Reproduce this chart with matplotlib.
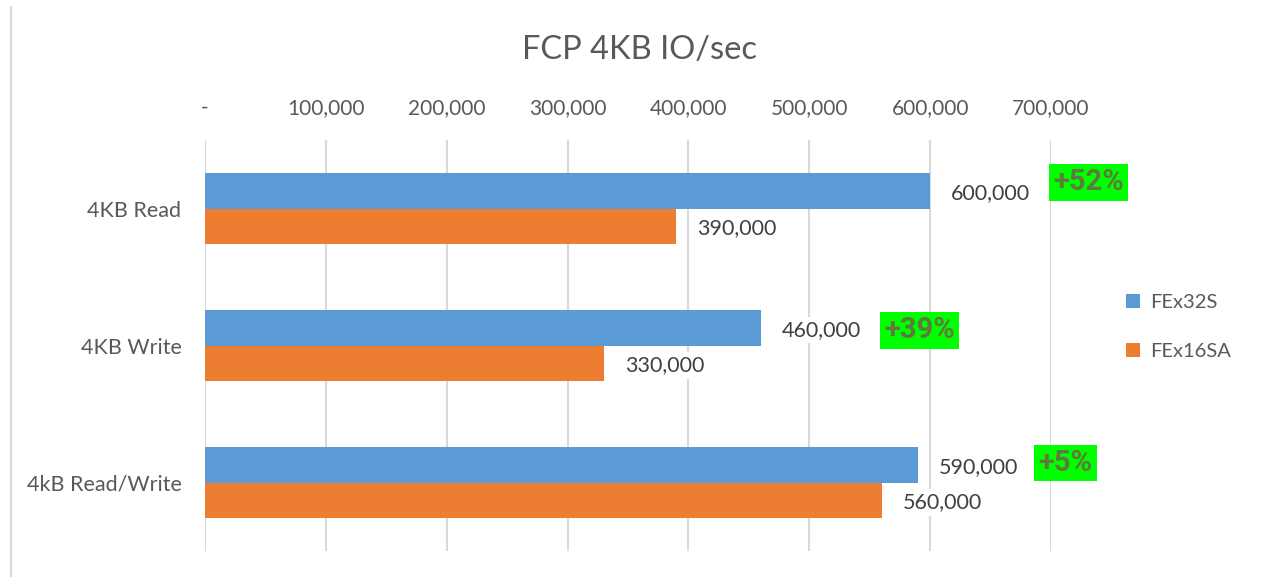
import matplotlib.pyplot as plt
from matplotlib.lines import Line2D
import numpy as np

plt.rcParams['font.family'] = ['Lato', 'DejaVu Sans']

categories = ['4KB Read', '4KB Write', '4kB Read/Write']
fex32s = [600000, 460000, 590000]
fex16sa = [390000, 330000, 560000]
gains = ['+52%', '+39%', '+5%']
ticks = [0, 100000, 200000, 300000, 400000, 500000, 600000, 700000]
tick_labels = ['-', '100,000', '200,000', '300,000', '400,000', '500,000', '600,000', '700,000']

blue = '#5b9bd5'
orange = '#ed7d31'
grey = '#595959'

W, H = 1264, 577
fig = plt.figure(figsize=(W / 100, H / 100), dpi=100)
ax = fig.add_axes([205 / W, 1 - 551 / H, (1051 - 205) / W, (551 - 140) / H])

y = np.arange(len(categories))
h = 0.26
ax.barh(y - h / 2, fex32s, height=h, color=blue, label='FEx32S', zorder=3)
ax.barh(y + h / 2, fex16sa, height=h, color=orange, label='FEx16SA', zorder=3)

ax.set_xlim(0, 700000)
ax.set_ylim(2.5, -0.5)
ax.set_xticks(ticks)
ax.set_xticklabels(tick_labels)
ax.xaxis.tick_top()
ax.set_yticks(y)
ax.set_yticklabels(categories)
ax.tick_params(axis='x', length=0, pad=16, labelsize=15, labelcolor=grey)
ax.tick_params(axis='y', length=0, pad=17, labelsize=15.5, labelcolor=grey)
ax.grid(axis='x', color='#d9d9d9', linewidth=1.5, zorder=0)
for s in ax.spines.values():
    s.set_visible(False)

# value labels
for i in range(len(categories)):
    for val, off in ((fex32s[i], -h / 2), (fex16sa[i], h / 2)):
        ax.annotate(f'{val:,}', (val, i + off + 0.015), xytext=(15, 0),
                    textcoords='offset points', ha='left', va='center',
                    fontsize=15.5, color='#404040', zorder=4,
                    bbox=dict(boxstyle='square,pad=0.15', fc='white', ec='none'))

# gain badges
badge_x = [731000, 591000, 712000]
badge_y = [-0.19, 0.89, 1.86]
for t, bx, by in zip(gains, badge_x, badge_y):
    ax.text(bx, by, t, ha='center', va='center', fontsize=21, fontweight='bold',
            family=['Roboto', 'DejaVu Sans'], color='#5e7a3c', clip_on=False, zorder=5,
            bbox=dict(boxstyle='square,pad=0.14', fc='#00ff00', ec='none'))

fig.text(640 / W, 1 - 50 / H, 'FCP 4KB IO/sec', ha='center', va='center',
         fontsize=23.5, color=grey)

fig.legend(loc='center left', bbox_to_anchor=(1108 / W, 1 - 327 / H), frameon=False,
           fontsize=14.5, labelcolor=grey, handlelength=0.7, handleheight=0.7,
           labelspacing=1.55, handletextpad=0.5)

fig.add_artist(Line2D([11 / W, 11 / W], [0, 1 - 7 / H], color='#d9d9d9', linewidth=1.5))

fig.savefig('out.png', dpi=100)
